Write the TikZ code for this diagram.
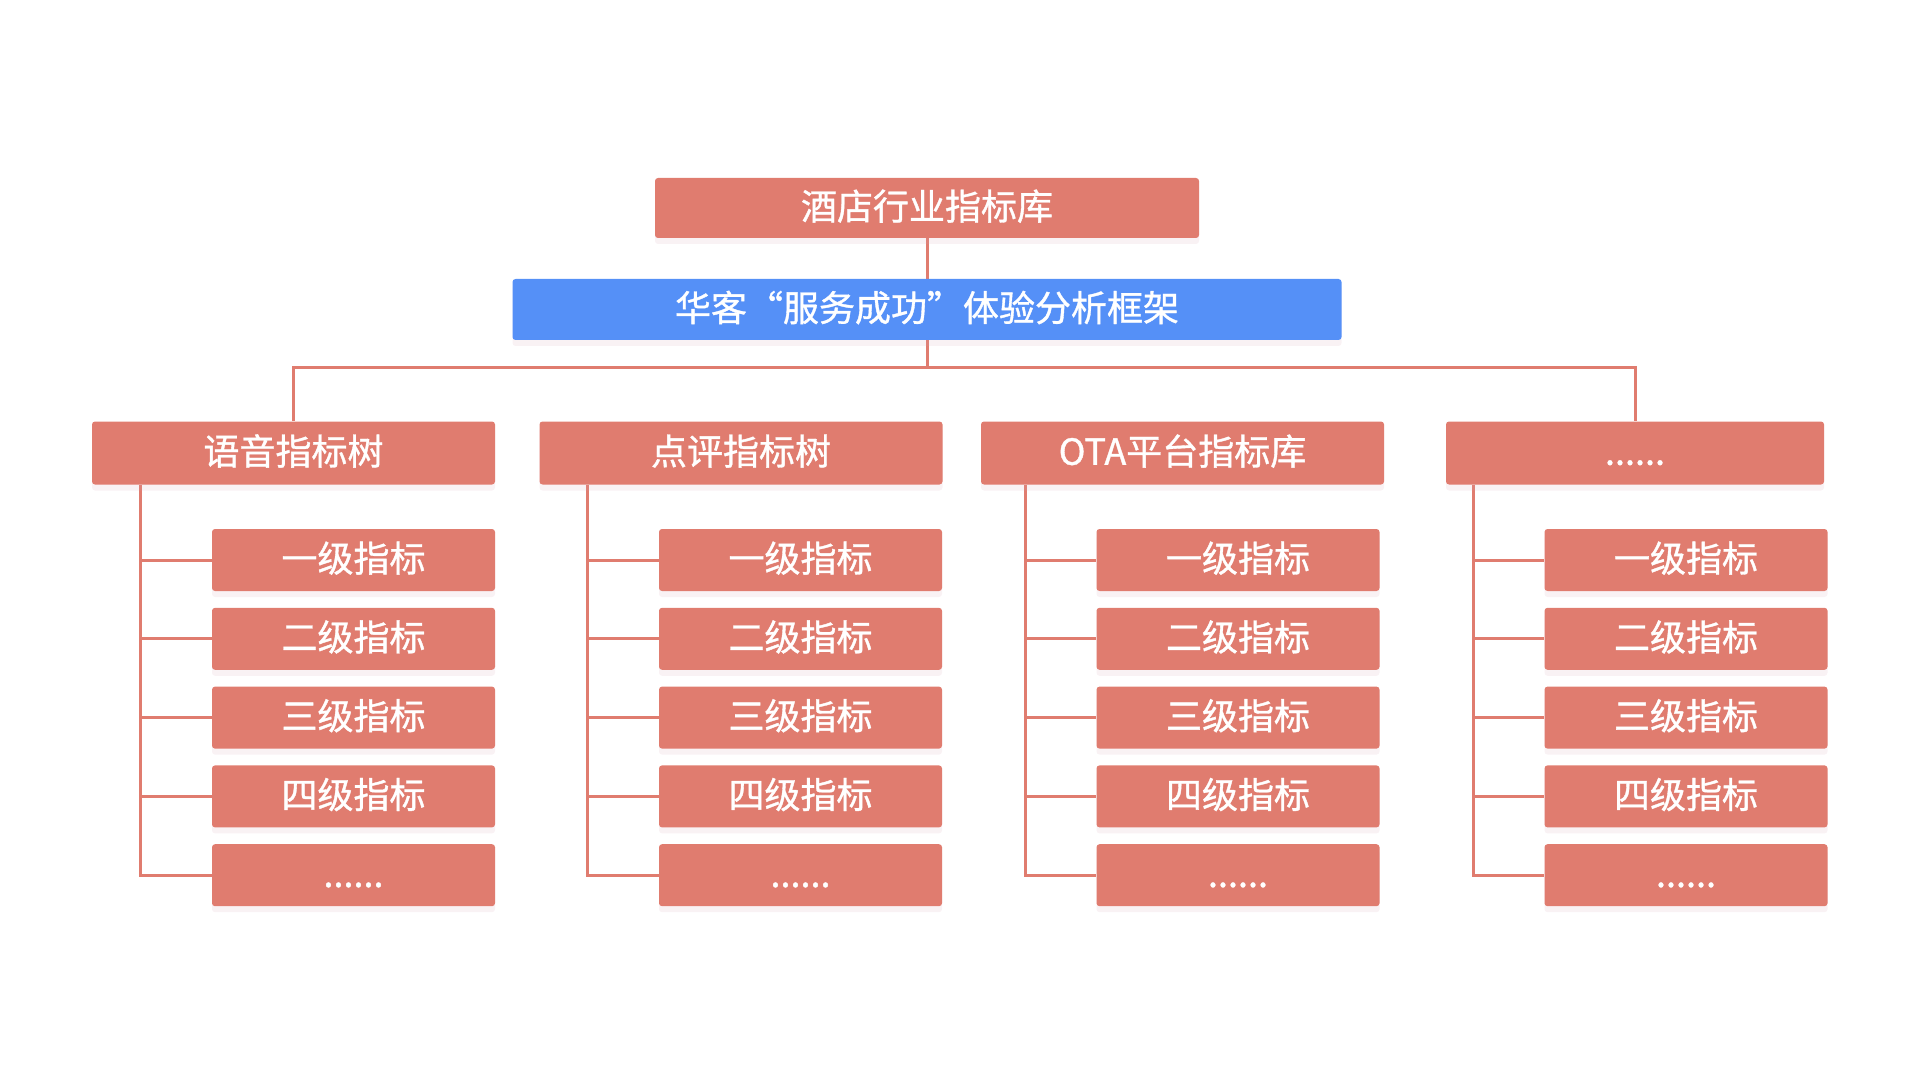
\documentclass[tikz,border=0pt]{standalone}
\usepackage{fontspec}
\setmainfont{Noto Sans CJK SC}[FakeBold=1]
\usetikzlibrary{positioning, calc, backgrounds, shadows}
\definecolor{hkred}{HTML}{E07C6F}
\definecolor{hkblue}{HTML}{5590F7}
\definecolor{hkshade}{HTML}{D8A0B4}

\begin{document}
\begin{tikzpicture}[
  x=0.5pt, y=-0.5pt,
  node distance=8pt,
  every node/.style={font=\fontsize{18pt}{18pt}\selectfont, text=white},
  box/.style={rectangle, rounded corners=1.5pt, fill=#1, inner sep=0pt, text height=1.18em, text depth=0em,
    drop shadow={shadow xshift=0pt, shadow yshift=-3pt, opacity=0.14, fill=hkshade}},
  box/.default=hkred,
  head/.style={box, minimum width=201.5pt, minimum height=31.5pt},
  leaf/.style={box, minimum width=141.5pt, minimum height=31pt},
  link/.style={draw=hkred, line width=1.5pt},
]
\useasboundingbox (0,0) rectangle (1920,1080);

\node[box, minimum width=272pt, minimum height=30pt] (lib) at (927,208) {酒店行业指标库};
\node[box=hkblue, minimum width=414.5pt, minimum height=30.5pt] (frame) at (927,309.5) {华客“服务成功”体验分析框架};

\node[head] (h1) at (293.5,453) {语音指标树};
\node[head] (h2) at (741,453) {点评指标树};
\node[head] (h3) at (1182.5,453) {OTA平台指标库};
\node[head, minimum width=189pt] (h4) at (1635,453) {......};

% indicator levels under each tree
\foreach \col/\cx in {1/353.5, 2/800.5, 3/1238, 4/1686} {
  \node[leaf] (c\col-1) at (\cx,560) {一级指标};
  \node[leaf, below=of c\col-1] (c\col-2) {二级指标};
  \node[leaf, below=of c\col-2] (c\col-3) {三级指标};
  \node[leaf, below=of c\col-3] (c\col-4) {四级指标};
  \node[leaf, below=of c\col-4] (c\col-5) {......};
}

\begin{scope}[on background layer]
  \coordinate (bus) at ($(frame.south)+(0,27)$);
  \draw[link] (lib) -- (frame);
  \draw[link] (frame.south) -- (bus);
  \draw[link] (h1.north) |- (bus) -| (h4.north);
  \foreach \col in {1,2,3,4} {
    \coordinate (t\col) at ($(c\col-1.west)+(-71,0)$);
    \draw[link] (t\col |- h\col.south) |- (c\col-5.west);
    \foreach \r in {1,2,3,4}
      \draw[link] (t\col |- c\col-\r.west) -- (c\col-\r.west);
  }
\end{scope}
\end{tikzpicture}
\end{document}
